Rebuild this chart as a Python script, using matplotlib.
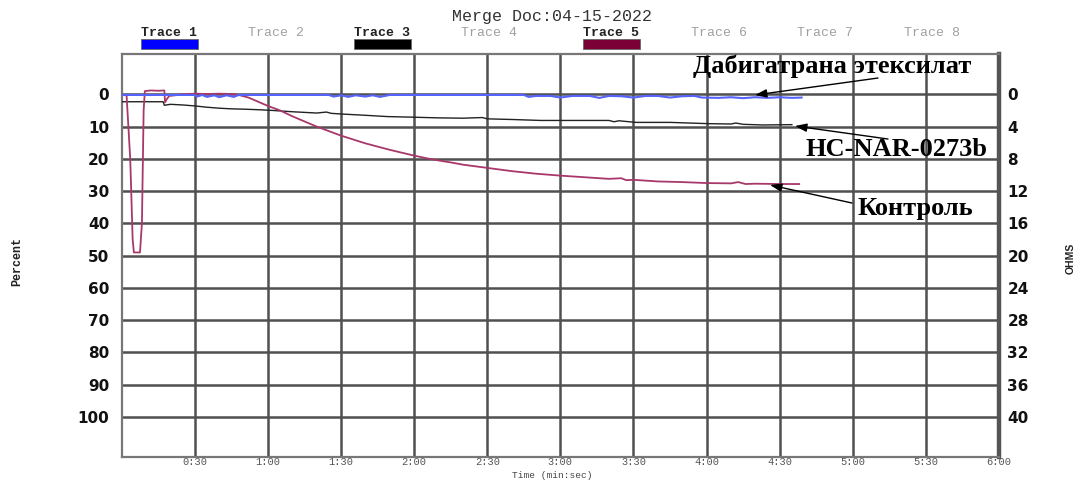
import matplotlib
matplotlib.use("Agg")
import matplotlib.pyplot as plt
from matplotlib.patches import Rectangle

# ---------------- data (time in seconds, values in percent) ----------------
title_text = "Merge Doc:04-15-2022"
trace_names = ["Trace 1", "Trace 2", "Trace 3", "Trace 4",
               "Trace 5", "Trace 6", "Trace 7", "Trace 8"]
trace_active = [True, False, True, False, True, False, False, False]
trace_colors = ["#0000ff", None, "#000000", None, "#7b0036", None, None, None]

x_ticks = [30, 60, 90, 120, 150, 180, 210, 240, 270, 300, 330, 360]
x_tick_labels = ["0:30", "1:00", "1:30", "2:00", "2:30", "3:00",
                 "3:30", "4:00", "4:30", "5:00", "5:30", "6:00"]
pct_ticks = [0, 10, 20, 30, 40, 50, 60, 70, 80, 90, 100]
ohm_ticks = [0, 4, 8, 12, 16, 20, 24, 28, 32, 36, 40]

# Trace 1 - Дабигатрана этексилат (blue)
t1 = [0, 30, 31, 33, 35, 38, 40, 43, 46, 48, 50, 85, 87, 90, 93, 96,
      100, 103, 106, 110, 150, 165, 167, 170, 176, 180, 185, 192, 196, 200,
      205, 210, 215, 220, 225, 230, 235, 238, 245, 250, 255, 260, 265, 270,
      275, 279]
v1 = [0.2, 0.2, 0.7, 0.2, 0.8, 0.3, 0.9, 0.3, 0.8, 0.2, 0.2, 0.2, 0.7, 0.3, 0.8, 0.3,
      0.7, 0.3, 0.8, 0.2, 0.2, 0.2, 0.8, 0.5, 0.5, 1.0, 0.5, 0.5, 1.1, 0.5,
      0.6, 1.0, 0.5, 0.5, 1.0, 0.6, 0.5, 1.0, 1.1, 0.9, 1.2, 0.9, 1.1, 0.9,
      1.1, 1.0]

# Trace 3 - HC-NAR-0273b (black)
t3 = [0, 17, 17.5, 20, 25, 30, 35, 40, 45, 50, 57, 62, 70, 80, 84, 86, 90,
      100, 109, 120, 130, 140, 148, 150, 160, 172, 185, 200, 202, 204, 211,
      225, 241, 250, 252, 255, 263, 275]
v3 = [2.3, 2.3, 3.4, 3.1, 3.3, 3.6, 4.0, 4.3, 4.5, 4.6, 4.8, 5.0, 5.4, 5.8, 5.5, 5.9, 6.1,
      6.5, 6.9, 7.1, 7.3, 7.4, 7.2, 7.6, 7.8, 8.1, 8.1, 8.1, 8.5, 8.2, 8.7,
      8.7, 9.1, 9.2, 8.9, 9.3, 9.5, 9.4]

# Trace 5 - Контроль (maroon)
t5 = [0, 2, 3.5, 4.5, 5, 7.5, 8.3, 9.0, 9.5, 12, 15, 17.5, 17.8, 18.5, 19.5,
      22, 25, 30, 35, 40, 45, 48, 52, 56, 60, 65, 70, 75, 80, 85, 90, 95,
      100, 105, 110, 115, 120, 125, 130, 135, 140, 145, 150, 155, 160, 165,
      170, 175, 180, 190, 200, 205, 207, 210, 220, 230, 240, 250, 253, 256,
      260, 270, 278]
v5 = [0.2, 0.3, 20, 45, 49, 49, 40, 5, -1.0, -1.2, -1.1, -1.2, 2.5, 1.5, 0.5,
      0.3, 0.0, -0.2, -0.1, -0.2, -0.1, 0.2, 1.0, 2.3, 3.6, 5.0, 6.8, 8.4, 10.0, 11.4, 12.8, 14.0,
      15.2, 16.2, 17.2, 18.1, 19.0, 19.8, 20.5, 21.1, 21.8, 22.3, 22.8, 23.3, 23.8, 24.2,
      24.6, 24.9, 25.2, 25.7, 26.2, 26.0, 26.6, 26.5, 27.0, 27.2, 27.5, 27.6, 27.2, 27.8,
      27.7, 27.8, 27.8]

annot_texts = ["Дабигатрана этексилат", "HC-NAR-0273b", "Контроль"]

# ---------------- figure ----------------
W, H = 1078, 480
fig = plt.figure(figsize=(W / 100, H / 100), dpi=100)
fig.patch.set_facecolor("white")

def fx(px):
    return px / W

def fy(py):
    return 1 - py / H

left, right, top, bottom = 121.7, 999.0, 54.3, 456.7
ax = fig.add_axes([fx(left), fy(bottom), fx(right) - fx(left), fy(top) - fy(bottom)])
ylo, yhi = -12.4, 112.3
ax.set_xlim(0, 360)
ax.set_ylim(yhi, ylo)

grid_c = "#505050"
ax.set_xticks(x_ticks)
ax.set_xticklabels(x_tick_labels, family="Liberation Mono", fontsize=7.5, color="#555555")
ax.set_yticks(pct_ticks)
ax.set_yticklabels([str(v) for v in pct_ticks], family="DejaVu Sans",
                   fontweight="bold", fontsize=11, color="#111111")
ax.tick_params(axis="both", length=0)
ax.tick_params(axis="y", pad=9)
ax.tick_params(axis="x", pad=0.5)
ax.grid(True, color=grid_c, linewidth=1.8)
ax.set_axisbelow(True)

for side in ["left", "top", "bottom"]:
    ax.spines[side].set_color("#777777")
    ax.spines[side].set_linewidth(1.6)
ax.spines["right"].set_color("#555555")
ax.spines["right"].set_linewidth(3.2)

ax2 = ax.twinx()
ax2.set_ylim(yhi * 0.4, ylo * 0.4)
ax2.set_yticks(ohm_ticks)
ax2.set_yticklabels([str(v) for v in ohm_ticks], family="DejaVu Sans",
                    fontweight="bold", fontsize=11, color="#111111")
ax2.tick_params(axis="y", length=0, pad=6)
for s in ax2.spines.values():
    s.set_visible(False)

# ---------------- traces ----------------
ax.plot(t3, v3, color="#222222", lw=1.0, zorder=3)
ax.plot(t5, v5, color="#a8386a", lw=1.3, zorder=4)
ax.plot(t1, v1, color="#5563ff", lw=1.5, zorder=5)

# ---------------- annotations ----------------
serif = dict(family="Liberation Serif", fontweight="bold", fontsize=19, color="black")
arrow = dict(arrowstyle="-|>,head_length=0.7,head_width=0.25", color="black", lw=1.0,
             shrinkA=0, shrinkB=0)

def dx(px):
    return (px - left) / (right - left) * 360

def dy(py):
    return (py - 94.3) / 3.227

ax.text(dx(832), dy(66), annot_texts[0], ha="center", va="center", zorder=6, **serif)
ax.text(dx(896), dy(149), annot_texts[1], ha="center", va="center", zorder=6, **serif)
ax.text(dx(915), dy(208), annot_texts[2], ha="center", va="center", zorder=6, **serif)

ax.annotate("", xy=(dx(755), dy(95)), xytext=(dx(878), dy(78)), arrowprops=arrow, zorder=7)
ax.annotate("", xy=(dx(795), dy(126)), xytext=(dx(888), dy(139)), arrowprops=arrow, zorder=7)
ax.annotate("", xy=(dx(770), dy(185)), xytext=(dx(852), dy(203)), arrowprops=arrow, zorder=7)

# ---------------- header / legend ----------------
fig.text(fx(552), fy(17), title_text, family="Liberation Mono", fontsize=12,
         color="#333333", ha="center", va="center")

trace_centers = [169, 276, 382, 489, 611, 719, 825, 932]
for name, act, col, cx in zip(trace_names, trace_active, trace_colors, trace_centers):
    fig.text(fx(cx), fy(32.5), name, family="Liberation Mono", fontsize=9.5,
             fontweight="bold" if act else "normal",
             color="#222222" if act else "#a0a0a0", ha="center", va="center")
    if col is not None:
        fig.patches.append(Rectangle((fx(cx - 28.5), fy(48.5)), fx(57), 9.5 / H,
                                     transform=fig.transFigure, facecolor=col,
                                     edgecolor="#666666", lw=0.6))

fig.text(fx(17), fy(262), "Percent", rotation=90, family="Liberation Mono",
         fontweight="bold", fontsize=8.5, color="#222222", ha="center", va="center")
fig.text(fx(1071), fy(258), "OHMS", rotation=90, family="Liberation Sans",
         fontweight="bold", fontsize=7.5, color="#222222", ha="center", va="center")
fig.text(fx(552), fy(479.8), "Time (min:sec)", family="Liberation Mono", fontsize=6.8,
         color="#444444", ha="center", va="bottom")

fig.savefig("out.png", dpi=100)
